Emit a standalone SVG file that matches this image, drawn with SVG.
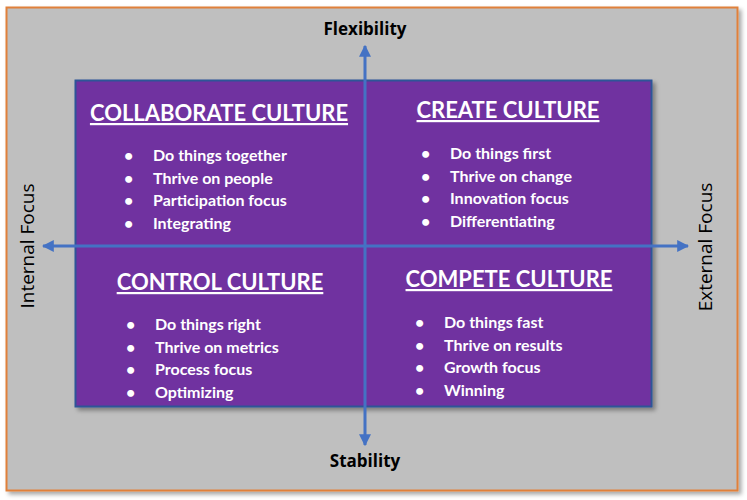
<svg xmlns="http://www.w3.org/2000/svg" width="747" height="500" viewBox="0 0 747 500">
<style>
.lbl{font-family:"Open Sans",Lato,"Liberation Sans",sans-serif;fill:#000;}
.ax{font-weight:bold;font-size:17px;}
.side{font-size:19px;}
.title{font-family:Lato,"Open Sans","Liberation Sans",sans-serif;font-weight:bold;font-size:22px;fill:#fff;text-decoration:underline;}
.item{font-family:Lato,"Open Sans","Liberation Sans",sans-serif;font-weight:bold;font-size:16px;fill:#fff;}
.axis{stroke:#4472C4;stroke-width:3;fill:none;}
</style>
<defs>
<filter id="sh" x="-5%" y="-5%" width="115%" height="115%">
<feDropShadow dx="3" dy="3" stdDeviation="2" flood-color="#000" flood-opacity="0.35"/>
</filter>
<marker id="ah" viewBox="0 0 10 10" refX="9" refY="5" markerWidth="4" markerHeight="4" orient="auto-start-reverse" markerUnits="strokeWidth">
<path d="M0,0 L10,5 L0,10 z" fill="#4472C4"/>
</marker>
</defs>
<rect x="6.5" y="7.5" width="731" height="483" fill="#BFBFBF" stroke="#E0803A" stroke-width="2" filter="url(#sh)"/>
<rect x="75.5" y="80.5" width="576" height="326" fill="#7030A0" stroke="#2F5597" stroke-width="2" filter="url(#sh)"/>
<g id="connectors">
<line class="axis" x1="365" y1="445" x2="365" y2="46" marker-start="url(#ah)" marker-end="url(#ah)"/>
<line class="axis" x1="43" y1="246" x2="688" y2="246" marker-start="url(#ah)" marker-end="url(#ah)"/>
</g>
<g id="flexibility"><text class="lbl ax" x="365" y="35" text-anchor="middle">Flexibility</text></g>
<g id="stability"><text class="lbl ax" x="365" y="467" text-anchor="middle">Stability</text></g>
<g id="internal"><text class="lbl side" transform="translate(34,246) rotate(-90)" text-anchor="middle">Internal Focus</text></g>
<g id="external"><text class="lbl side" transform="translate(712,247) rotate(-90)" text-anchor="middle">External Focus</text></g>
<g id="collaborate">
<text class="title" x="219" y="121" text-anchor="middle">COLLABORATE CULTURE</text>
<g class="item">
<text x="124" y="161">•</text><text x="153" y="161">Do things together</text>
<text x="124" y="184">•</text><text x="153" y="184">Thrive on people</text>
<text x="124" y="206">•</text><text x="153" y="206">Participation focus</text>
<text x="124" y="229">•</text><text x="153" y="229">Integrating</text>
</g>
</g>
<g id="create">
<text class="title" x="508" y="118" text-anchor="middle">CREATE CULTURE</text>
<g class="item">
<text x="421" y="159">•</text><text x="450" y="159">Do things first</text>
<text x="421" y="182">•</text><text x="450" y="182">Thrive on change</text>
<text x="421" y="204">•</text><text x="450" y="204">Innovation focus</text>
<text x="421" y="227">•</text><text x="450" y="227">Differentiating</text>
</g>
</g>
<g id="control">
<text class="title" x="220" y="290" text-anchor="middle">CONTROL CULTURE</text>
<g class="item">
<text x="126" y="330">•</text><text x="155" y="330">Do things right</text>
<text x="126" y="353">•</text><text x="155" y="353">Thrive on metrics</text>
<text x="126" y="375">•</text><text x="155" y="375">Process focus</text>
<text x="126" y="398">•</text><text x="155" y="398">Optimizing</text>
</g>
</g>
<g id="compete">
<text class="title" x="509" y="287" text-anchor="middle">COMPETE CULTURE</text>
<g class="item">
<text x="415" y="328">•</text><text x="444" y="328">Do things fast</text>
<text x="415" y="351">•</text><text x="444" y="351">Thrive on results</text>
<text x="415" y="373">•</text><text x="444" y="373">Growth focus</text>
<text x="415" y="396">•</text><text x="444" y="396">Winning</text>
</g>
</g>
</svg>
